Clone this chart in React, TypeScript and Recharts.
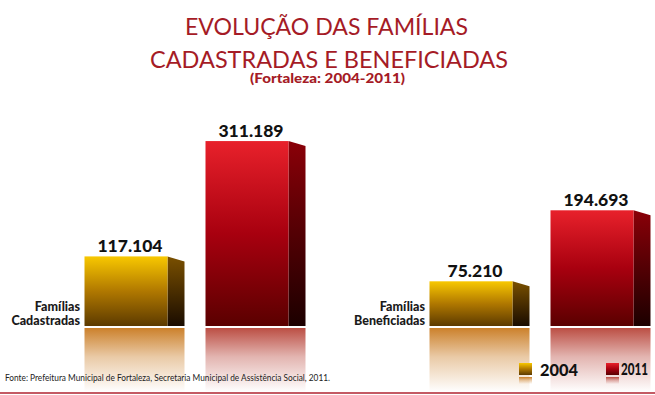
import React from 'react';
import { BarChart, Bar, XAxis, YAxis, LabelList } from 'recharts';

// data
const categories = ['Famílias Cadastradas', 'Famílias Beneficiadas'];
const years = ['2004', '2011'];
const values2004 = [117104, 75210];
const values2011 = [311189, 194693];

const data = categories.map((name, i) => ({ name, v2004: values2004[i], v2011: values2011[i] }));

const TITLE_RED = '#a51b26';
const FONT = 'Lato, "Noto Sans", sans-serif';

const fmt = (v: number) => String(v).replace(/\B(?=(\d{3})+(?!\d))/g, '.');

const palettes: Record<string, { front: string[]; side: string[]; refl: string }> = {
  gold: { front: ['#f8c800', '#b07800', '#5c3a00'], side: ['#7a5000', '#1a0c00'], refl: '#c97a20' },
  red: { front: ['#e8212b', '#a8000f', '#5a0000'], side: ['#8a0008', '#1c0000'], refl: '#b8453a' },
};

const Gradients = ({ prefix }: { prefix: string }) => (
  <defs>
    {Object.entries(palettes).map(([k, p]) => (
      <React.Fragment key={k}>
        <linearGradient id={`${prefix}${k}-front`} x1="0" y1="0" x2="0" y2="1">
          <stop offset="0%" stopColor={p.front[0]} />
          <stop offset="50%" stopColor={p.front[1]} />
          <stop offset="100%" stopColor={p.front[2]} />
        </linearGradient>
        <linearGradient id={`${prefix}${k}-side`} x1="0" y1="0" x2="0" y2="1">
          <stop offset="0%" stopColor={p.side[0]} />
          <stop offset="100%" stopColor={p.side[1]} />
        </linearGradient>
        <linearGradient id={`${prefix}${k}-refl`} x1="0" y1="0" x2="0" y2="1">
          <stop offset="0%" stopColor={p.refl} stopOpacity={0.95} />
          <stop offset="45%" stopColor={p.refl} stopOpacity={0.4} />
          <stop offset="100%" stopColor={p.refl} stopOpacity={0} />
        </linearGradient>
      </React.Fragment>
    ))}
  </defs>
);

// 3D-ish bar: front face, slanted side face, and fading reflection underneath
const bar3D = (key: string) => (props: any) => {
  const { x, y, width, height } = props;
  const depth = 17;
  const slant = 5;
  const base = y + height;
  return (
    <g>
      <rect x={x} y={base + 2} width={width + depth} height={64} fill={`url(#c${key}-refl)`} />
      <polygon
        points={`${x + width},${y} ${x + width + depth},${y + slant} ${x + width + depth},${base} ${x + width},${base}`}
        fill={`url(#c${key}-side)`}
      />
      <rect x={x} y={y} width={width} height={height} fill={`url(#c${key}-front)`} />
    </g>
  );
};

const ValueLabel = (props: any) => {
  const { x, y, width, value } = props;
  return (
    <text x={x + width / 2 + 4} y={y - 4} textAnchor="middle" fontFamily={FONT} fontWeight={900} fontSize={17.5} fill="#111">
      {fmt(value)}
    </text>
  );
};

const CategoryTick = (props: any) => {
  const { x, y, payload } = props;
  const [a, b] = String(payload.value).split(' ');
  const tx = x - 106;
  return (
    <g fontFamily={FONT} fontWeight={900} fontSize={12.5} fill="#1a1a1a" textAnchor="end">
      <text x={tx} y={y - 15}>{a}</text>
      <text x={tx} y={y - 1}>{b}</text>
    </g>
  );
};

export default function App() {
  return (
    <div style={{ position: 'fixed', left: 0, top: 0, width: 655, height: 395, overflow: 'hidden', background: '#fff' }}>
      <BarChart
        width={720}
        height={395}
        data={data}
        margin={{ top: 118, right: 16.5, bottom: 39, left: 13.5 }}
        barSize={83}
        barGap={38}
      >
        <Gradients prefix="c" />
        <XAxis dataKey="name" axisLine={false} tickLine={false} tickSize={0} tickMargin={0} height={30} tick={<CategoryTick />} interval={0} />
        <YAxis hide domain={[0, 350000]} />
        <Bar dataKey="v2004" name={years[0]} isAnimationActive={false} shape={bar3D('gold')}>
          <LabelList dataKey="v2004" content={<ValueLabel />} />
        </Bar>
        <Bar dataKey="v2011" name={years[1]} isAnimationActive={false} shape={bar3D('red')}>
          <LabelList dataKey="v2011" content={<ValueLabel />} />
        </Bar>
      </BarChart>

      <svg width={655} height={395} style={{ position: 'absolute', left: 0, top: 0, pointerEvents: 'none' }}>
        <Gradients prefix="l" />
        <g fontFamily={FONT} fill={TITLE_RED} textAnchor="middle">
          <text x={326.5} y={34.5} fontSize={24} fontWeight={400} textLength={283} lengthAdjust="spacingAndGlyphs">EVOLUÇÃO DAS FAMÍLIAS</text>
          <text x={329} y={67.5} fontSize={24} fontWeight={400} textLength={358} lengthAdjust="spacingAndGlyphs">CADASTRADAS E BENEFICIADAS</text>
          <text x={327.5} y={83} fontSize={12.5} fontWeight={900} textLength={155} lengthAdjust="spacingAndGlyphs">(Fortaleza: 2004-2011)</text>
        </g>

        {/* legend */}
        {years.map((yr, i) => {
          const key = i === 0 ? 'gold' : 'red';
          const lx = i === 0 ? 519 : 606;
          return (
            <g key={yr}>
              <rect x={lx} y={363} width={13} height={12} fill={`url(#l${key}-front)`} />
              <rect x={lx} y={377} width={13} height={7} fill={`url(#l${key}-refl)`} />
              <text x={i === 0 ? 540 : 621} y={375.5} fontFamily={FONT} fontWeight={900} fontSize={i === 0 ? 16.5 : 14}
                fill="#111" textLength={i === 0 ? 38 : 27} lengthAdjust="spacingAndGlyphs"
                style={i === 0 ? undefined : { transform: 'scaleY(1.18)', transformOrigin: '621px 375.5px' }}>{yr}</text>
            </g>
          );
        })}

        <text x={5} y={381} fontFamily={FONT} fontSize={9.5} fill="#222" textLength={325} lengthAdjust="spacingAndGlyphs">
          Fonte: Prefeitura Municipal de Fortaleza, Secretaria Municipal de Assistência Social, 2011.
        </text>
        <rect x={0} y={392} width={655} height={2} fill="#c45a64" />
      </svg>
    </div>
  );
}
